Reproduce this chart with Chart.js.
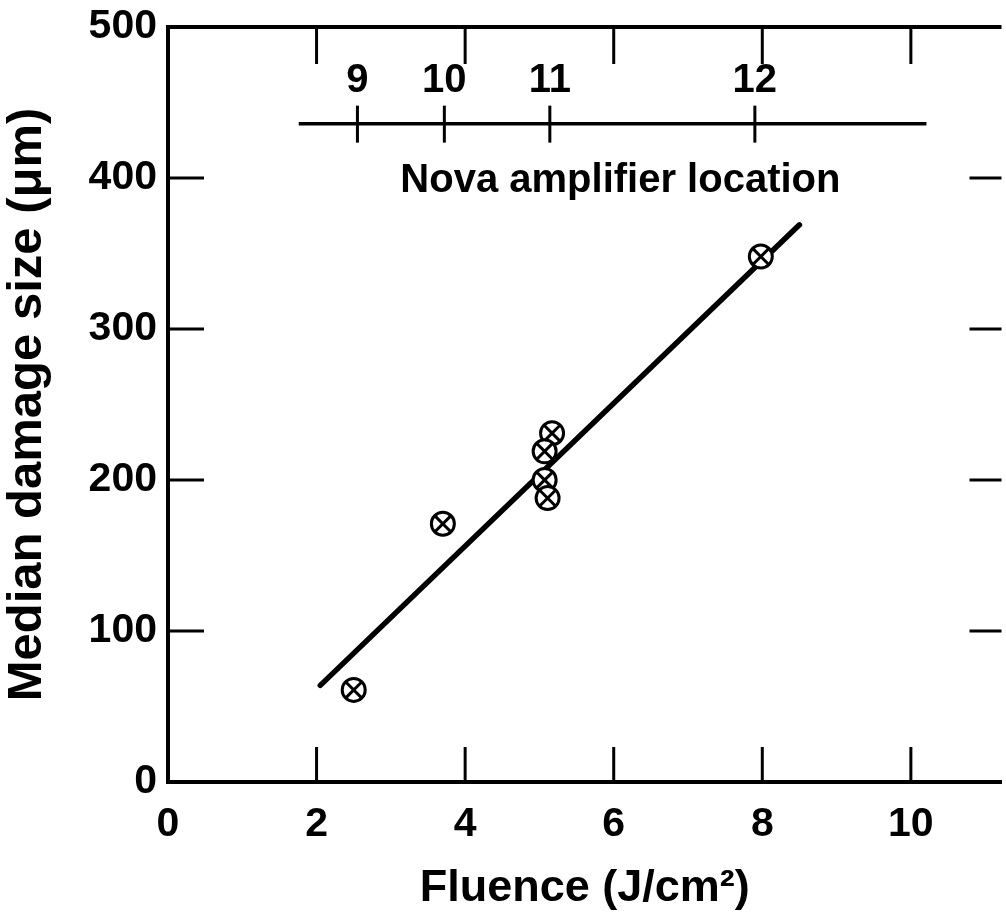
<!DOCTYPE html>
<html>
<head>
<meta charset="utf-8">
<script src="https://cdn.jsdelivr.net/npm/chart.js@4"></script>
<style>
  html, body { margin: 0; padding: 0; background: #fff; overflow: hidden; }
  #wrap { width: 1016px; height: 921px; }
</style>
</head>
<body>
<div id="wrap"><canvas id="c" width="1016" height="921"></canvas></div>
<script>
// ---- data ----
const fluence    = [2.50, 3.70, 5.17, 5.07, 5.07, 5.11, 7.98];   // J/cm^2
const damageSize = [61, 171, 231, 219, 200, 188, 348];           // µm
const fitFluence = [2.05, 8.50];
const fitSize    = [64, 369];
const xTickValues = [0, 2, 4, 6, 8, 10];
const yTickValues = [0, 100, 200, 300, 400, 500];
const novaLabels  = ['9', '10', '11', '12'];
const novaFluence = [2.55, 3.72, 5.14, 7.90];

const FONT = "'Liberation Sans', Arial, Helvetica, sans-serif";

const framePlugin = {
  id: 'frame',
  afterDraw(chart) {
    const { ctx, chartArea: a, scales: { x, y } } = chart;
    ctx.save();
    ctx.strokeStyle = '#000';
    ctx.fillStyle = '#000';
    // top border
    ctx.lineWidth = 4;
    ctx.beginPath();
    ctx.moveTo(a.left - 2, a.top); ctx.lineTo(a.right, a.top);
    ctx.stroke();
    // inward ticks
    ctx.lineWidth = 3;
    xTickValues.forEach(v => {
      if (v <= x.min) return;
      const px = x.getPixelForValue(v);
      ctx.beginPath();
      ctx.moveTo(px, a.bottom); ctx.lineTo(px, a.bottom - 35);
      ctx.moveTo(px, a.top); ctx.lineTo(px, a.top + 37);
      ctx.stroke();
    });
    yTickValues.forEach(v => {
      if (v <= y.min || v >= y.max) return;
      const py = y.getPixelForValue(v);
      ctx.beginPath();
      ctx.moveTo(a.left, py); ctx.lineTo(a.left + 36, py);
      ctx.moveTo(a.right, py); ctx.lineTo(a.right - 32, py);
      ctx.stroke();
    });
    // Nova amplifier location secondary axis
    const ny = y.getPixelForValue(436);
    ctx.lineWidth = 3.5;
    ctx.beginPath();
    ctx.moveTo(x.getPixelForValue(1.76), ny);
    ctx.lineTo(x.getPixelForValue(10.21), ny);
    ctx.stroke();
    ctx.lineWidth = 3;
    ctx.font = "bold 40px " + FONT;
    ctx.textAlign = 'center';
    ctx.textBaseline = 'middle';
    const ly = y.getPixelForValue(464);
    novaLabels.forEach((lab, i) => {
      const px = x.getPixelForValue(novaFluence[i]);
      ctx.beginPath();
      ctx.moveTo(px, ny - 18); ctx.lineTo(px, ny + 19);
      ctx.stroke();
      ctx.fillText(lab, px, ly);
    });
    ctx.fillText('Nova amplifier location', x.getPixelForValue(6.09), y.getPixelForValue(398));
    ctx.restore();
  }
};

new Chart(document.getElementById('c'), {
  type: 'scatter',
  data: {
    datasets: [
      {
        label: 'cross',
        data: fluence.map((f, i) => ({ x: f, y: damageSize[i] })),
        pointStyle: 'crossRot',
        pointRadius: 10.5,
        borderColor: '#000',
        pointBorderWidth: 3,
        order: 0
      },
      {
        label: 'Median damage size',
        data: fluence.map((f, i) => ({ x: f, y: damageSize[i] })),
        pointStyle: 'circle',
        pointRadius: 11.5,
        borderColor: '#000',
        backgroundColor: '#fff',
        pointBorderWidth: 3,
        order: 1
      },
      {
        label: 'fit',
        data: fitFluence.map((f, i) => ({ x: f, y: fitSize[i] })),
        showLine: true,
        borderColor: '#000',
        borderWidth: 5.5,
        borderCapStyle: 'round',
        pointRadius: 0,
        order: 2
      }
    ]
  },
  options: {
    responsive: false,
    animation: false,
    layout: { padding: { top: 27, right: 8, bottom: 0, left: 0 } },
    plugins: { legend: { display: false }, tooltip: { enabled: false } },
    scales: {
      x: {
        type: 'linear',
        min: 0,
        max: 11.22,
        afterBuildTicks(scale) { scale.ticks = xTickValues.map(v => ({ value: v })); },
        afterFit(scale) { scale.height = 139; scale.paddingLeft = 0; scale.paddingRight = 0; },
        grid: { display: false, drawTicks: false },
        border: { display: true, color: '#000', width: 4 },
        ticks: {
          color: '#000',
          padding: 18,
          font: { family: FONT, size: 41, weight: 'bold' },
          maxRotation: 0
        },
        title: {
          display: true,
          text: 'Fluence (J/cm²)',
          color: '#000',
          font: { family: FONT, size: 45, weight: 'bold' },
          padding: { top: 0, bottom: 5 }
        }
      },
      y: {
        type: 'linear',
        min: 0,
        max: 500,
        afterBuildTicks(scale) { scale.ticks = yTickValues.map(v => ({ value: v })); },
        afterFit(scale) { scale.width = 168; scale.paddingTop = 0; scale.paddingBottom = 0; },
        grid: { display: false, drawTicks: false },
        border: { display: true, color: '#000', width: 4 },
        ticks: {
          color: '#000',
          padding: 11,
          font: { family: FONT, size: 41, weight: 'bold' }
        },
        title: {
          display: true,
          text: 'Median damage size (μm)',
          color: '#000',
          font: { family: FONT, size: 49, weight: 'bold' },
          padding: { top: -2, bottom: 0 }
        }
      }
    }
  },
  plugins: [framePlugin]
});
</script>
</body>
</html>
